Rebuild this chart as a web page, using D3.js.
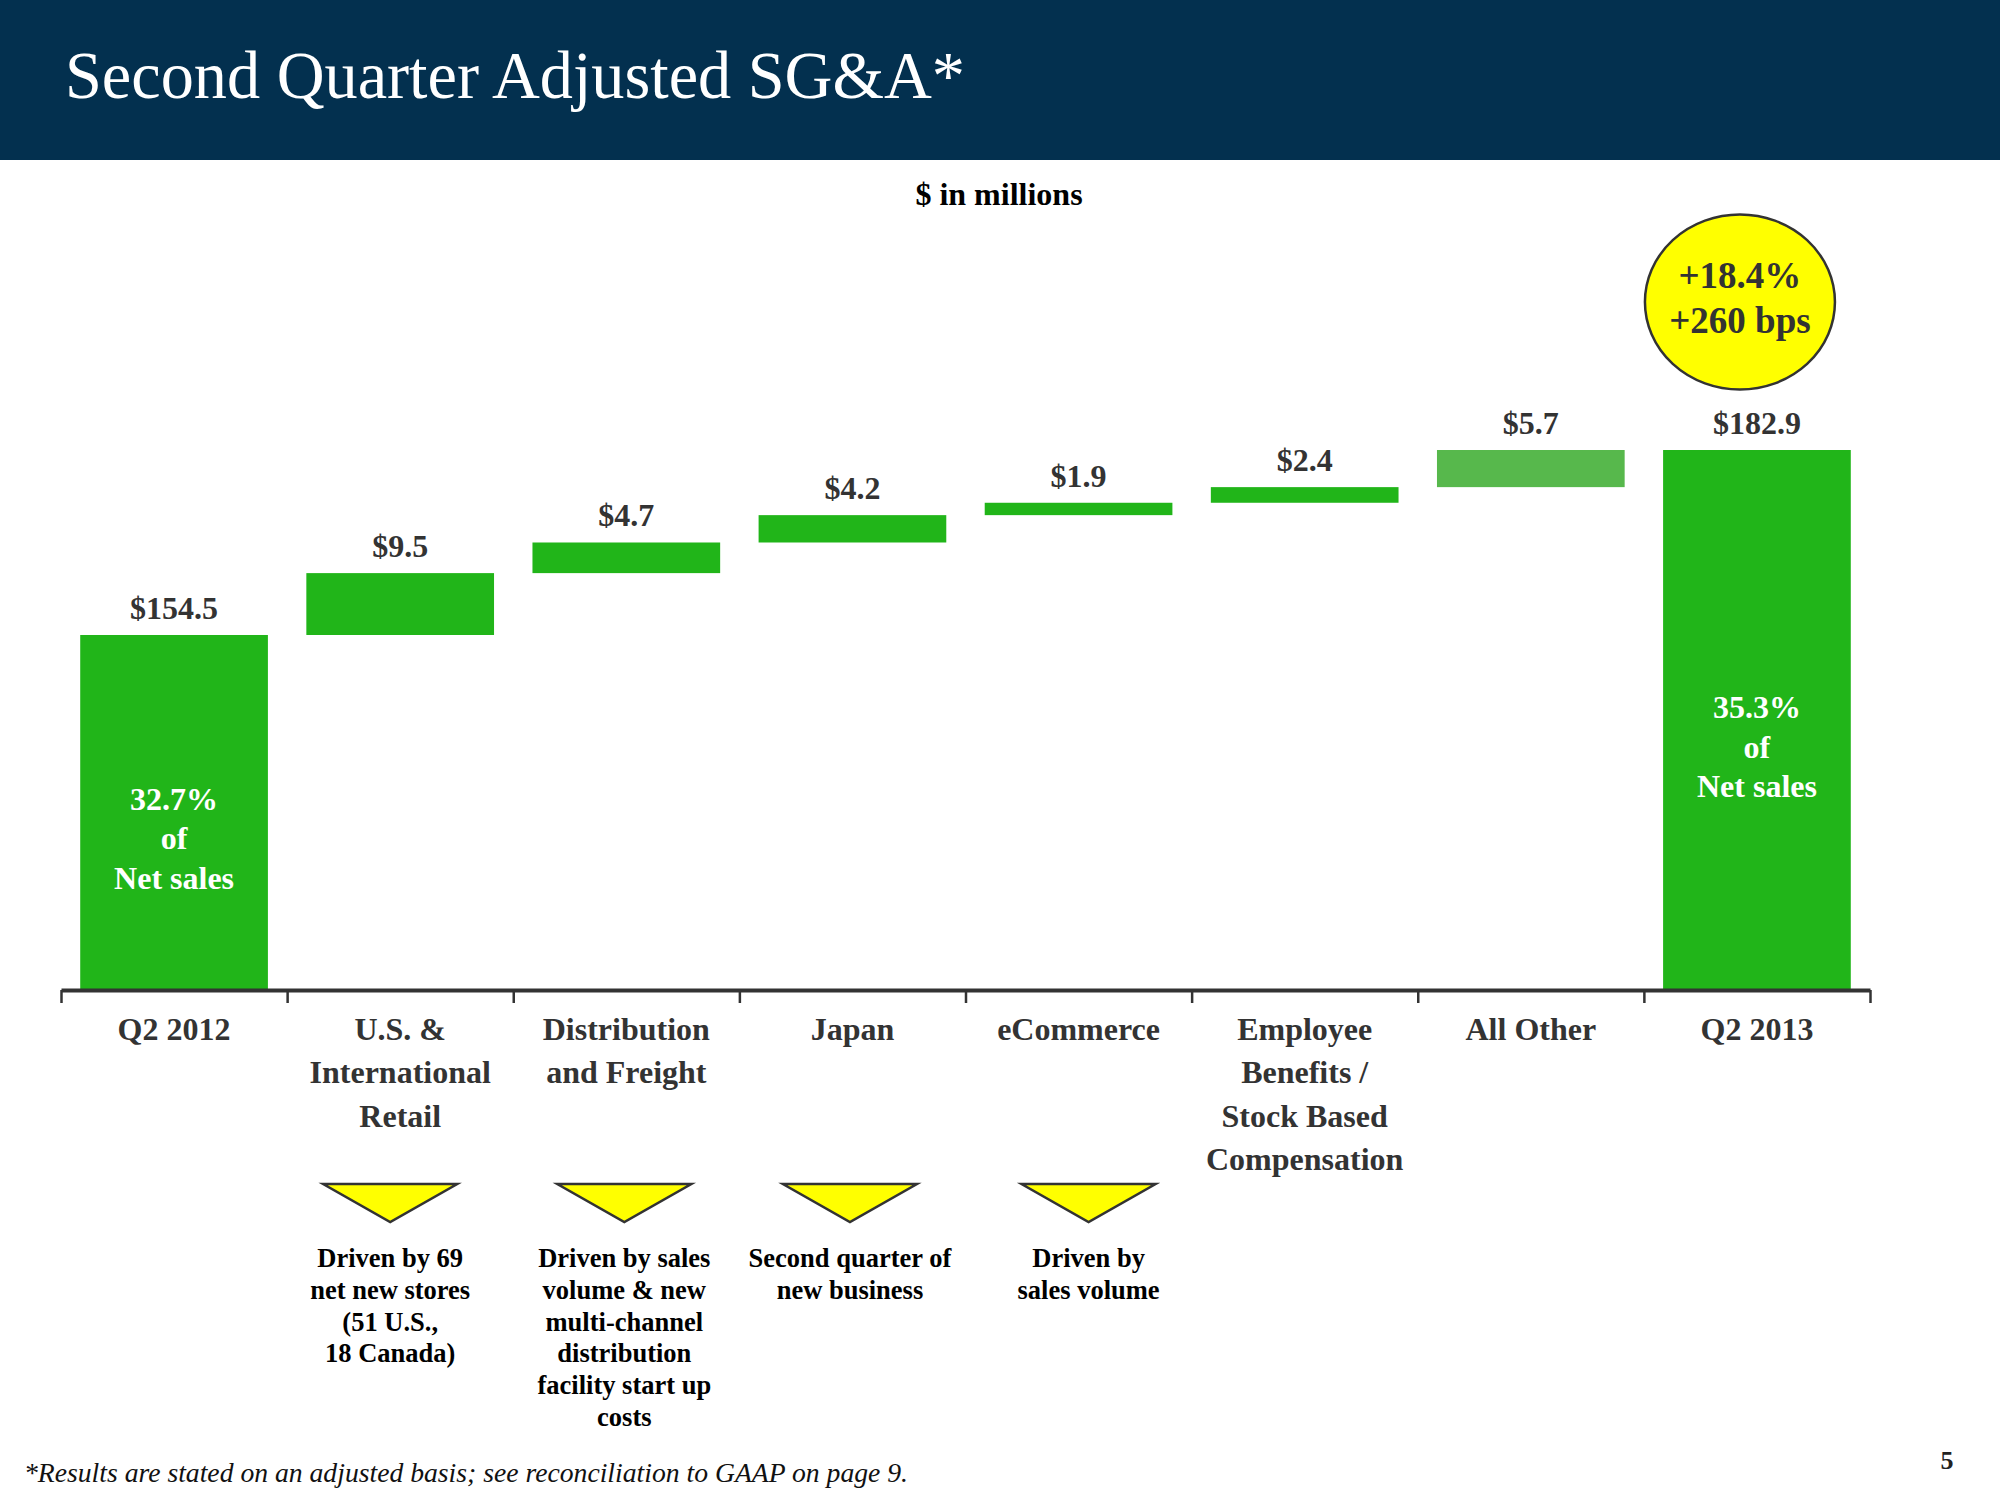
<!DOCTYPE html>
<html>
<head>
<meta charset="utf-8">
<script src="https://cdn.jsdelivr.net/npm/d3@7"></script>
<style>
  html, body { margin: 0; padding: 0; background: #fff; }
  svg { display: block; }
  text { font-family: "Liberation Serif", "Times New Roman", serif; }
</style>
</head>
<body>
<svg id="chart" width="2000" height="1500"></svg>
<script>
// ---------- DATA ----------
const categories = ["Q2 2012", "U.S. & International Retail", "Distribution and Freight", "Japan", "eCommerce", "Employee Benefits / Stock Based Compensation", "All Other", "Q2 2013"];
const categoryLines = [
  ["Q2 2012"],
  ["U.S. &", "International", "Retail"],
  ["Distribution", "and Freight"],
  ["Japan"],
  ["eCommerce"],
  ["Employee", "Benefits /", "Stock Based", "Compensation"],
  ["All Other"],
  ["Q2 2013"]
];
const barTypes = ["total", "step", "step", "step", "step", "step", "other", "total"];
const values = [154.5, 9.5, 4.7, 4.2, 1.9, 2.4, 5.7, 182.9];
const valueLabels = ["$154.5", "$9.5", "$4.7", "$4.2", "$1.9", "$2.4", "$5.7", "$182.9"];
const insideLabels = [["32.7%", "of", "Net sales"], null, null, null, null, null, null, ["35.3%", "of", "Net sales"]];
const annotations = [
  null,
  ["Driven by 69", "net new stores", "(51 U.S.,", "18 Canada)"],
  ["Driven by sales", "volume & new", "multi-channel", "distribution", "facility start up", "costs"],
  ["Second quarter of", "new business"],
  ["Driven by", "sales volume"],
  null, null, null
];
const badgeLines = ["+18.4%", "+260 bps"];
const yDomain = [100, 182.9];

// ---------- LAYOUT ----------
const svg = d3.select("#chart");
const axisY = 990;
const axisLeft = 61, axisRight = 1870;
const annotOffsets = [0, -10, -2, -2.5, 10, 0, 0, 0];
const insideFirstBaseline = [175, null, null, null, null, null, null, 268];

// header
svg.append("rect").attr("x", 0).attr("y", 0).attr("width", 2000).attr("height", 160).attr("fill", "#03304f");
svg.append("text").attr("x", 65).attr("y", 98)
  .attr("font-size", 68).attr("fill", "#fff")
  .attr("textLength", 900).attr("lengthAdjust", "spacingAndGlyphs")
  .text("Second Quarter Adjusted SG&A*");

svg.append("text").attr("x", 999).attr("y", 205).attr("text-anchor", "middle")
  .attr("font-size", 32).attr("font-weight", "bold").attr("fill", "#000")
  .text("$ in millions");

// scales
const x = d3.scaleBand().domain(categories).range([axisLeft, axisRight]).paddingInner(0.17).paddingOuter(0.085);
const xb = d3.scaleLinear().domain([0, categories.length]).range([axisLeft, axisRight]);
const y = d3.scaleLinear().domain(yDomain).range([axisY, 450]);

// compute waterfall
let running = 0;
const bars = values.map((v, i) => {
  let lo, hi;
  if (barTypes[i] === "total") { lo = yDomain[0]; hi = v; running = v; }
  else { lo = running; hi = running + v; running = hi; }
  return { cat: categories[i], lo, hi, type: barTypes[i], i };
});

const colors = { total: "#21b519", step: "#21b519", other: "#57b84c" };

svg.append("g").selectAll("rect").data(bars).join("rect")
  .attr("x", d => x(d.cat))
  .attr("width", x.bandwidth())
  .attr("y", d => y(d.hi))
  .attr("height", d => y(d.lo) - y(d.hi))
  .attr("fill", d => colors[d.type]);

// value labels
svg.append("g").selectAll("text").data(bars).join("text")
  .attr("x", d => x(d.cat) + x.bandwidth() / 2)
  .attr("y", d => y(d.hi) - 16)
  .attr("text-anchor", "middle")
  .attr("font-size", 32).attr("font-weight", "bold").attr("fill", "#333")
  .text((d, i) => valueLabels[i]);

// inside labels
bars.forEach((d, i) => {
  if (!insideLabels[i]) return;
  const t = svg.append("text").attr("text-anchor", "middle")
    .attr("font-size", 32).attr("font-weight", "bold").attr("fill", "#fff");
  insideLabels[i].forEach((ln, k) => {
    t.append("tspan").attr("x", x(d.cat) + x.bandwidth() / 2)
      .attr("y", y(d.hi) + insideFirstBaseline[i] + k * 39.5).text(ln);
  });
});

// axis
const axis = d3.axisBottom(xb).tickValues(d3.range(categories.length + 1)).tickSize(13).tickSizeOuter(0).tickFormat("");
const gAxis = svg.append("g").attr("transform", `translate(0,${axisY})`).call(axis);
gAxis.select(".domain").attr("stroke", "#333").attr("stroke-width", 4);
gAxis.selectAll(".tick line").attr("stroke", "#333").attr("stroke-width", 2.5);

// category labels
categoryLines.forEach((lines, i) => {
  const t = svg.append("text").attr("text-anchor", "middle")
    .attr("font-size", 32).attr("font-weight", "bold").attr("fill", "#333");
  lines.forEach((ln, k) => {
    t.append("tspan").attr("x", x(categories[i]) + x.bandwidth() / 2)
      .attr("y", 1040 + k * 43.3).text(ln);
  });
});

// annotations (triangles + text)
annotations.forEach((lines, i) => {
  if (!lines) return;
  const cx = x(categories[i]) + x.bandwidth() / 2 + annotOffsets[i];
  svg.append("path")
    .attr("d", `M${cx - 67},1184 L${cx + 67},1184 L${cx},1222 Z`)
    .attr("fill", "#ffff00").attr("stroke", "#333").attr("stroke-width", 2.5).attr("stroke-linejoin", "miter");
  const t = svg.append("text").attr("text-anchor", "middle")
    .attr("font-size", 26.5).attr("font-weight", "bold").attr("fill", "#000");
  lines.forEach((ln, k) => {
    t.append("tspan").attr("x", cx).attr("y", 1267 + k * 31.8).text(ln);
  });
});

// badge
const bcx = x("Q2 2013") + x.bandwidth() / 2 - 17;
svg.append("ellipse").attr("cx", bcx).attr("cy", 302).attr("rx", 95).attr("ry", 87.5)
  .attr("fill", "#ffff00").attr("stroke", "#333").attr("stroke-width", 2.5);
const bt = svg.append("text").attr("text-anchor", "middle")
  .attr("font-size", 37).attr("font-weight", "bold").attr("fill", "#333");
badgeLines.forEach((ln, k) => {
  bt.append("tspan").attr("x", bcx).attr("y", 288 + k * 45).text(ln);
});

// footnote and page number
svg.append("text").attr("x", 24).attr("y", 1482)
  .attr("font-size", 27.5).attr("font-style", "italic").attr("fill", "#111")
  .attr("textLength", 884).attr("lengthAdjust", "spacingAndGlyphs")
  .text("*Results are stated on an adjusted basis; see reconciliation to GAAP on page 9.");
svg.append("text").attr("x", 1947).attr("y", 1469).attr("text-anchor", "middle")
  .attr("font-size", 26).attr("font-weight", "bold").attr("fill", "#222")
  .text("5");
</script>
</body>
</html>
